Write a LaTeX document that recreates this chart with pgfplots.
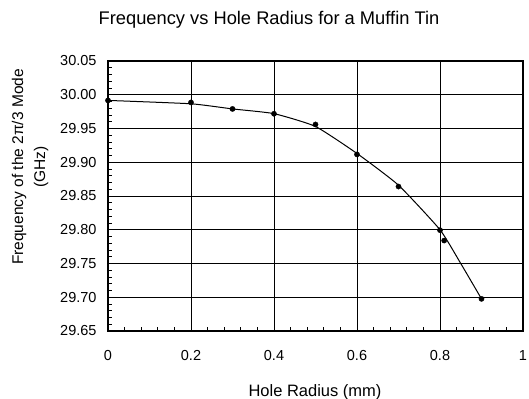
\documentclass[border=0pt]{standalone}
\usepackage{fontspec}
\setmainfont{Liberation Sans}
\usepackage{pgfplots}
\pgfplotsset{compat=1.18}
\begin{document}
\begin{tikzpicture}
\path[use as bounding box] (0,0) rectangle (529bp,399bp);
\begin{axis}[
  at={(108bp,68bp)}, anchor=south west,
  scale only axis, width=415bp, height=270bp,
  xmin=0, xmax=1, ymin=29.65, ymax=30.05,
  xtick={0,0.2,...,1}, ytick={29.65,29.70,...,30.06},
  minor x tick num=4, minor y tick num=4,
  tick align=inside, tick pos=left,
  major tick length=0pt, minor tick length=4bp,
  grid=major, major grid style={black, line width=0.8bp},
  axis line style={black, line width=1.6bp},
  every tick/.style={black, line width=0.8bp},
  /pgf/number format/assume math mode=true,
  xticklabel style={font=\fontsize{14.5bp}{16bp}\selectfont, anchor=base, yshift=-30bp},
  yticklabel style={font=\fontsize{14.5bp}{16bp}\selectfont, /pgf/number format/fixed, /pgf/number format/fixed zerofill, /pgf/number format/precision=2, anchor=east, xshift=-8bp},
  xticklabel={\pgfmathprintnumber[fixed]{\tick}},
  clip=false,
]
\addplot[black, line width=1bp, no marks, smooth, tension=0.3] coordinates {
(0,29.9916) (0.2,29.9866) (0.3,29.979) (0.4,29.972) (0.5,29.953)
(0.6,29.913) (0.7,29.866) (0.8,29.800) (0.85,29.750) (0.9,29.6976)};
\addplot[only marks, mark=*, mark size=2.6bp, black] coordinates {
(0,29.9916) (0.2,29.9886) (0.3,29.979) (0.4,29.9718) (0.5,29.956)
(0.6,29.9116) (0.7,29.864) (0.8,29.7994) (0.81,29.784) (0.9,29.6976)};
\end{axis}
\node[anchor=base, font=\fontsize{18.3bp}{20bp}\selectfont] at (269bp,374bp) {Frequency vs Hole Radius for a Muffin Tin};
\node[anchor=base, font=\fontsize{16.5bp}{18bp}\selectfont] at (315bp,3bp) {Hole Radius (mm)};
\node[rotate=90, align=center, font=\fontsize{15.5bp}{22bp}\selectfont] at (30bp,232bp) {Frequency of the 2π/3 Mode\\(GHz)};
\end{tikzpicture}
\end{document}
